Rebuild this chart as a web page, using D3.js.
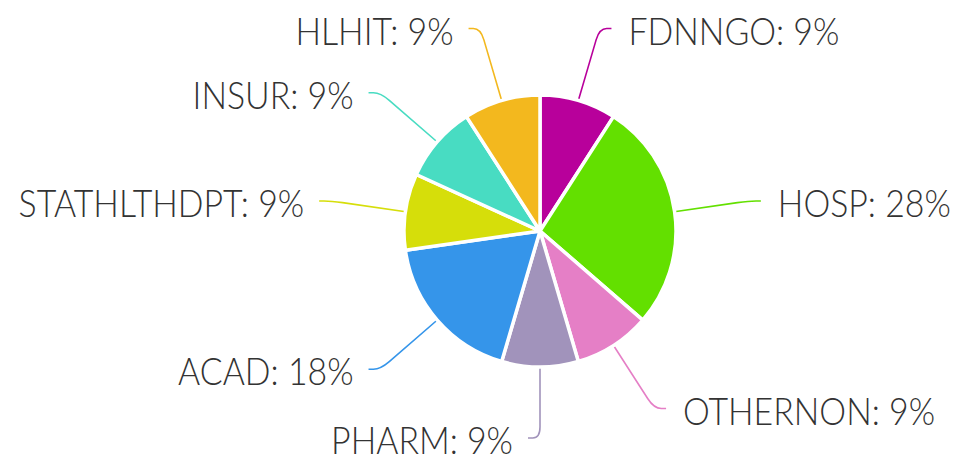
<!DOCTYPE html>
<html>
<head>
<meta charset="UTF-8">
<title>pie</title>
<script src="https://d3js.org/d3.v7.min.js"></script>
<style>
  html, body { margin: 0; padding: 0; background: #fff; }
  svg { display: block; }
</style>
</head>
<body>
<div id="chart"></div>
<script>
// datos
var categorias = ["FDNNGO", "HOSP", "OTHERNON", "PHARM", "ACAD", "STATHLTHDPT", "INSUR", "HLHIT"]
var valores = [1, 3, 1, 1, 2, 1, 1, 1]
var colores = ["#b8009b", "#63e000", "#e57fc6", "#a193bb", "#3595ea", "#d6de0a", "#48dcc2", "#f3b81e"]

var width = 961
var height = 463
var cx = 540, cy = 231
var radius = 136
var len1 = 75, len2 = 12
var estrechar = 0.915 // la fuente original es más estrecha

// porcentajes redondeados que sumen 100 (resto mayor)
function porcentajes(vals) {
    var total = d3.sum(vals)
    var raw = vals.map(function (v) { return v / total * 100 })
    var base = raw.map(Math.floor)
    var falta = 100 - d3.sum(base)
    var orden = raw.map(function (r, i) { return i })
        .sort(function (a, b) { return (raw[b] - base[b]) - (raw[a] - base[a]) })
    for (var k = 0; k < falta; k++) base[orden[k]] += 1
    return base
}
var pcts = porcentajes(valores)

var datos = categorias.map(function (c, i) {
    return { nombre: c, valor: valores[i], color: colores[i], pct: pcts[i] }
})

var svg = d3.select("#chart").append("svg")
    .attr("width", width)
    .attr("height", height)

var pie = d3.pie()
    .value(function (d) { return d.valor })
    .sort(null)

var arc = d3.arc().innerRadius(0).outerRadius(radius)

var g = svg.append("g").attr("transform", "translate(" + cx + "," + cy + ")")
var arcos = pie(datos)

// lineas de etiquetas
arcos.forEach(function (a) {
    var mid = (a.startAngle + a.endAngle) / 2
    var dx = Math.sin(mid), dy = -Math.cos(mid)
    var lado = dx >= -1e-6 && mid < Math.PI - 1e-6 ? 1 : -1
    var p0 = [dx * (radius - 2), dy * (radius - 2)]
    var p1 = [dx * (radius + len1), dy * (radius + len1)]
    // que la etiqueta no se salga por abajo
    var maxY = height - cy - 25
    if (p1[1] > maxY) p1[1] = maxY
    var p2 = [p1[0] + lado * len2, p1[1]]
    var k = 0.15
    var a1 = [p1[0] - (p1[0] - p0[0]) * k, p1[1] - (p1[1] - p0[1]) * k]
    var b1 = [p1[0] + (p2[0] - p1[0]) * 0.6, p1[1]]
    g.append("path")
        .attr("d", "M" + p0 + "L" + a1 + "Q" + p1 + " " + b1 + "L" + p2)
        .attr("fill", "none")
        .attr("stroke", a.data.color)
        .attr("stroke-width", 1.6)
    var tx = p2[0] + lado * (lado > 0 ? 17 : 15)
    var ty = p2[1] + 16
    g.append("text")
        .attr("transform", "translate(" + tx + "," + ty + ") scale(" + estrechar + ",1)")
        .attr("text-anchor", lado > 0 ? "start" : "end")
        .style("font-family", "Lato, 'Open Sans', sans-serif")
        .style("font-size", "37px")
        .style("font-weight", 300)
        .attr("fill", "#333")
        .text(a.data.nombre + ": " + a.data.pct + "%")
})

// sectores
g.selectAll("path.sector")
    .data(arcos)
    .enter()
    .append("path")
    .attr("class", "sector")
    .attr("d", arc)
    .attr("fill", function (d) { return d.data.color })
    .attr("stroke", "#fff")
    .attr("stroke-width", 3.5)
    .attr("stroke-linejoin", "round")
</script>
</body>
</html>
